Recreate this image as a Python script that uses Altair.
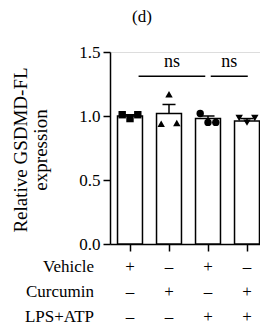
import altair as alt
import pandas as pd

# ---- data ----
groups = [0, 1, 2, 3]
means = [1.00, 1.02, 0.98, 0.96]
err_upper = [1.01, 1.09, 1.00, 0.98]
shapes = ["square", "triangle-up", "circle", "triangle-down"]

pt_group = [0, 0, 0, 1, 1, 1, 2, 2, 2, 3, 3, 3]
pt_rep = [0, 1, 2, 0, 1, 2, 0, 1, 2, 0, 1, 2]
pt_values = [1.01, 0.98, 1.01, 0.94, 1.17, 0.945, 1.02, 0.95, 0.95, 0.984, 0.948, 0.984]

sig_start = [0.22, 2.07]
sig_end = [1.93, 3.02]
sig_level = [1.31, 1.31]
sig_text = ["ns", "ns"]

row_labels = ["Vehicle", "Curcumin", "LPS+ATP"]
vehicle = ["+", "–", "+", "–"]
curcumin = ["–", "+", "–", "+"]
lps_atp = ["–", "–", "+", "+"]

y_title = ["Relative GSDMD-FL", "expression"]
panel_title = "(d)"

FONT = "Liberation Serif"
FS = 17

bars = pd.DataFrame({"g": groups, "mean": means, "up": err_upper})
pts = pd.DataFrame({"g": pt_group, "rep": pt_rep, "v": pt_values})
sig = pd.DataFrame({"x1": sig_start, "x2": sig_end, "y": sig_level, "t": sig_text})

xscale = alt.Scale(domain=[-0.5128, 3.3333], nice=False, zero=False)
yscale = alt.Scale(domain=[0, 1.5], nice=False)

xaxis = alt.Axis(values=groups, labels=False, title=None, tickSize=7, tickWidth=1.5,
                 domainWidth=1.5, domainColor="black", tickColor="black", grid=False)
yaxis = alt.Axis(values=[0, 0.5, 1.0, 1.5], format=".1f", title=None, tickSize=7,
                 tickWidth=1.5, domainWidth=1.5, domainColor="black", tickColor="black",
                 labelFont=FONT, labelFontSize=FS, labelColor="black", labelPadding=3, grid=False)

base = alt.Chart(bars)

bar_layer = base.transform_calculate(
    xa="datum.g - 0.32", xb="datum.g + 0.32", zero="0"
).mark_rect(fill="white", stroke="black", strokeWidth=1.5).encode(
    x=alt.X("xa:Q", scale=xscale, axis=xaxis),
    x2="xb:Q",
    y=alt.Y("zero:Q", scale=yscale, axis=yaxis),
    y2="mean:Q",
)

err_line = base.mark_rule(color="black", strokeWidth=1.5).encode(
    x=alt.X("g:Q", scale=xscale), y=alt.Y("mean:Q", scale=yscale), y2="up:Q"
)
err_cap = base.transform_calculate(
    ca="datum.g - 0.167", cb="datum.g + 0.167"
).mark_rule(color="black", strokeWidth=1.5).encode(
    x=alt.X("ca:Q", scale=xscale), x2="cb:Q", y=alt.Y("up:Q", scale=yscale)
)

point_layer = alt.Chart(pts).transform_calculate(
    px="datum.g + (datum.rep - 1) * 0.2"
).mark_point(filled=True, size=55, opacity=1, color="black").encode(
    x=alt.X("px:Q", scale=xscale),
    y=alt.Y("v:Q", scale=yscale),
    shape=alt.Shape("g:N", scale=alt.Scale(domain=groups, range=shapes), legend=None),
)

sig_lines = alt.Chart(sig).mark_rule(color="black", strokeWidth=1.5).encode(
    x=alt.X("x1:Q", scale=xscale), x2="x2:Q", y=alt.Y("y:Q", scale=yscale)
)
sig_labels = alt.Chart(sig).transform_calculate(
    xm="(datum.x1 + datum.x2) / 2", ty="datum.y + 0.11"
).mark_text(font=FONT, fontSize=18, color="black", baseline="middle").encode(
    x=alt.X("xm:Q", scale=xscale), y=alt.Y("ty:Q", scale=yscale), text="t:N"
)

table_layers = []
row_pix = [215, 240, 265]
for lab, signs, py in zip(row_labels, [vehicle, curcumin, lps_atp], row_pix):
    df = pd.DataFrame({"g": groups, "s": signs})
    table_layers.append(
        alt.Chart(df).mark_text(font=FONT, fontSize=FS, color="black", baseline="middle").encode(
            x=alt.X("g:Q", scale=xscale), y=alt.value(py), text="s:N"
        )
    )
    table_layers.append(
        alt.Chart(pd.DataFrame({"t": [lab]})).mark_text(
            font=FONT, fontSize=FS, color="black", baseline="middle", align="right"
        ).encode(x=alt.value(-16), y=alt.value(py), text="t:N")
    )

title_df = pd.DataFrame({"t": [panel_title]})
title_layer = alt.Chart(title_df).mark_text(
    font=FONT, fontSize=FS, color="black", baseline="middle"
).encode(x=alt.value(32), y=alt.value(-35), text="t:N")

ytitle_layers = []
for txt, px in zip(y_title, [-89, -69]):
    ytitle_layers.append(
        alt.Chart(pd.DataFrame({"t": [txt]})).mark_text(
            font=FONT, fontSize=19, color="black", baseline="middle", angle=270
        ).encode(x=alt.value(px), y=alt.value(98), text="t:N")
    )

chart = alt.layer(
    bar_layer, err_line, err_cap, point_layer, sig_lines, sig_labels,
    *table_layers, title_layer, *ytitle_layers
).properties(
    width=150, height=192,
    autosize=alt.AutoSizeParams(type="none"),
    padding={"left": 102, "top": 44, "right": 0, "bottom": 82},
).configure_view(stroke=None).configure(background="white")

chart.save("out.html", embed_options={"renderer": "svg", "actions": False})
